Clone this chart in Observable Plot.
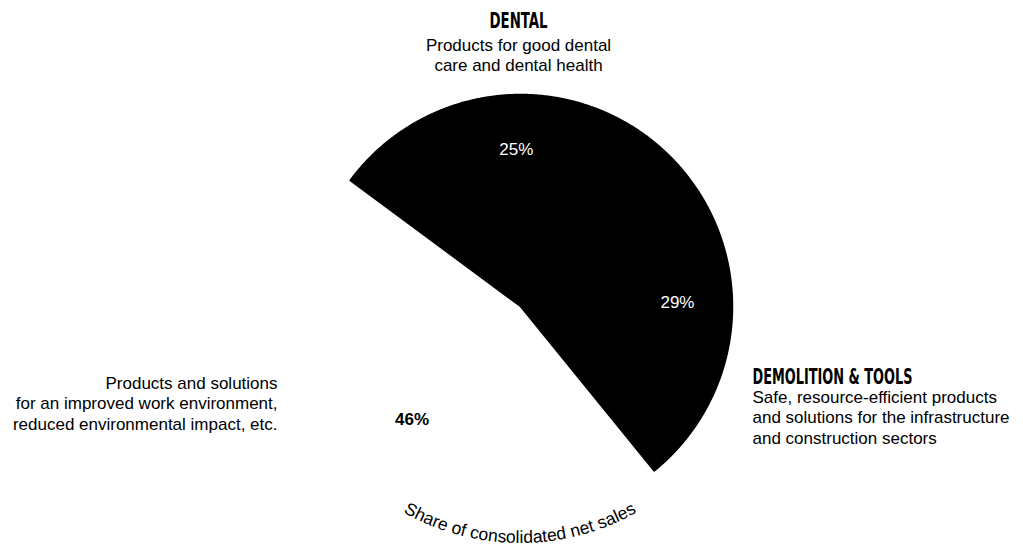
<!DOCTYPE html>
<html>
<head>
<meta charset="utf-8">
<script src="https://cdn.jsdelivr.net/npm/d3@7"></script>
<script src="https://cdn.jsdelivr.net/npm/@observablehq/plot@0.6"></script>
<style>
  html, body { margin: 0; padding: 0; background: #fff; }
  #chart { width: 1023px; height: 551px; }
</style>
</head>
<body>
<div id="chart"></div>
<script>
// ---- data ----
const segments = ["Dental", "Demolition & Tools", "Systems Solutions"];
const shares = [25, 29, 46];
const segmentTitles = ["DENTAL", "DEMOLITION & TOOLS", ""];
const segmentDescriptions = [
  ["Products for good dental", "care and dental health"],
  ["Safe, resource-efficient products", "and solutions for the infrastructure", "and construction sectors"],
  ["Products and solutions", "for an improved work environment,", "reduced environmental impact, etc."]
];
const caption = "Share of consolidated net sales";

// ---- layout (pixels, relative to the pie centre) ----
const W = 1023, H = 551;
const layout = {
  cx: 520, cy: 306, r: 212, startDeg: -53.5,
  labelR: 157, labelNudgeDeg: {"Dental": 7},
  captionR: 237, captionSpanDeg: 60, captionSize: 17.5,
  lineGap: 20.7,
  blocks: {
    "Dental": {x: -2, titleY: -279, firstLineY: -256, anchor: "middle"},
    "Demolition & Tools": {x: 232, titleY: 77, firstLineY: 96, anchor: "start"},
    "Systems Solutions": {x: -243, titleY: 61, firstLineY: 82, anchor: "end"}
  },
  titleWidths: {"DENTAL": 58, "DEMOLITION & TOOLS": 160}
};
const fillOf = (seg) => seg === "Systems Solutions" ? "white" : "black";
const bodyFont = "'Liberation Sans', Arial, Helvetica, sans-serif";
const titleFont = "'Liberation Sans Narrow', 'DejaVu Sans Condensed', 'Arial Narrow', sans-serif";

const rows = segments.map((s, i) => ({segment: s, share: shares[i], title: segmentTitles[i], lines: segmentDescriptions[i]}));
const a0 = layout.startDeg * Math.PI / 180;
const arcs = d3.pie().value((d) => d.share).sort(null).startAngle(a0).endAngle(a0 + 2 * Math.PI)(rows);

// slice polygons (white drawn first)
const polyPoints = [];
for (const a of arcs.slice().reverse()) {
  const seg = a.data.segment;
  polyPoints.push({segment: seg, x: 0, y: 0});
  const n = Math.max(2, Math.ceil((a.endAngle - a.startAngle) / (Math.PI / 720)));
  for (let k = 0; k <= n; k++) {
    const t = a.startAngle + (a.endAngle - a.startAngle) * k / n;
    polyPoints.push({segment: seg, x: layout.r * Math.sin(t), y: -layout.r * Math.cos(t)});
  }
  polyPoints.push({segment: seg, x: 0, y: 0});
}

const labelPos = arcs.map((a) => {
  const mid = (a.startAngle + a.endAngle) / 2 + (layout.labelNudgeDeg[a.data.segment] || 0) * Math.PI / 180;
  return {...a.data, x: layout.labelR * Math.sin(mid), y: -layout.labelR * Math.cos(mid)};
});

const titleRows = rows.filter((d) => d.title).map((d) => ({...d, x: layout.blocks[d.segment].x, y: layout.blocks[d.segment].titleY}));
const lineRows = rows.flatMap((d) => d.lines.map((line, i) => ({segment: d.segment, line,
  x: layout.blocks[d.segment].x, y: layout.blocks[d.segment].firstLineY + i * layout.lineGap})));

const textMarks = [];
for (const anchor of ["start", "middle", "end"]) {
  const t = titleRows.filter((d) => layout.blocks[d.segment].anchor === anchor);
  const l = lineRows.filter((d) => layout.blocks[d.segment].anchor === anchor);
  if (t.length) textMarks.push(Plot.text(t, {x: "x", y: "y", text: "title", textAnchor: anchor, lineAnchor: "bottom",
    fontFamily: titleFont, fontWeight: "bold", fontSize: 22, fill: "black"}));
  if (l.length) textMarks.push(Plot.text(l, {x: "x", y: "y", text: "line", textAnchor: anchor, lineAnchor: "bottom",
    fontFamily: bodyFont, fontSize: 17, fill: "black"}));
}

const captionMark = (index, scales) => {
  const cx = scales.x(0), cy = scales.y(0);
  const R = layout.captionR, t = layout.captionSpanDeg * Math.PI / 180;
  const g = d3.create("svg:g");
  g.append("defs").append("path").attr("id", "caption-arc")
    .attr("d", `M${cx - R * Math.sin(t)},${cy + R * Math.cos(t)} A${R},${R} 0 0 0 ${cx + R * Math.sin(t)},${cy + R * Math.cos(t)}`);
  g.append("text").attr("font-size", layout.captionSize).attr("font-family", bodyFont).attr("fill", "black")
    .append("textPath").attr("href", "#caption-arc").attr("startOffset", "50%").attr("text-anchor", "middle")
    .text(caption);
  return g.node();
};

const chart = Plot.plot({
  width: W, height: H, margin: 0,
  x: {domain: [-layout.cx, W - layout.cx], range: [0, W], axis: null},
  y: {domain: [-layout.cy, H - layout.cy], range: [0, H], axis: null},
  color: {type: "identity"},
  style: {fontFamily: bodyFont, background: "white", overflow: "visible"},
  marks: [
    Plot.line(polyPoints, {x: "x", y: "y", z: "segment", fill: (d) => fillOf(d.segment), stroke: (d) => fillOf(d.segment),
      strokeWidth: 1.5, strokeLinejoin: "round", curve: "linear"}),
    Plot.text(labelPos.filter((d) => fillOf(d.segment) === "black"), {x: "x", y: "y", text: (d) => `${d.share}%`, fill: "white", fontSize: 17, fontFamily: bodyFont}),
    Plot.text(labelPos.filter((d) => fillOf(d.segment) === "white"), {x: "x", y: "y", text: (d) => `${d.share}%`, fill: "black", fontWeight: "bold", fontSize: 17, fontFamily: bodyFont}),
    ...textMarks,
    captionMark
  ]
});

d3.select(chart).selectAll("text").each(function () {
  const w = layout.titleWidths[this.textContent];
  if (w) { this.setAttribute("textLength", w); this.setAttribute("lengthAdjust", "spacingAndGlyphs"); }
});

document.getElementById("chart").appendChild(chart);
</script>
</body>
</html>
